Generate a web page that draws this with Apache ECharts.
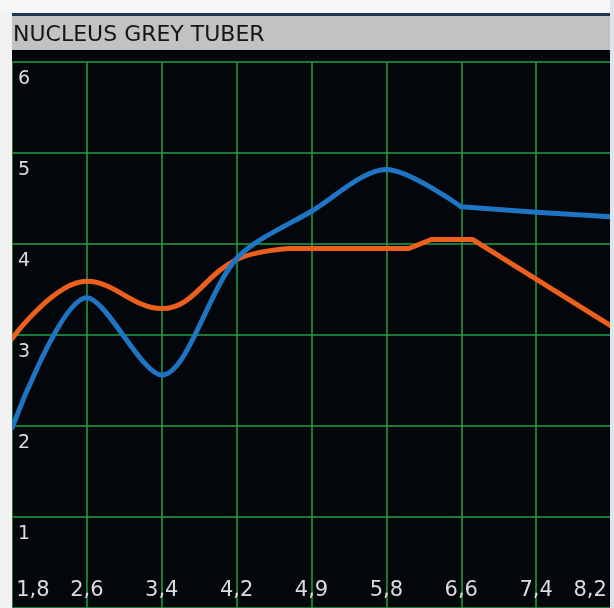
<!DOCTYPE html>
<html>
<head>
<meta charset="utf-8">
<script src="https://cdn.jsdelivr.net/npm/echarts@6/dist/echarts.min.js"></script>
<style>
html,body{margin:0;padding:0;background:#f4f4f4;}
#chart{width:614px;height:608px;}
</style>
</head>
<body>
<div id="chart"></div>
<script>
// Tick labels of the x axis (category positions 0..8)
var xTickLabels = ['1,8', '2,6', '3,4', '4,2', '4,9', '5,8', '6,6', '7,4', '8,2'];
// Blue series: [position, value] - curved part and straight tail
var blueCurve = [[0, 1.98], [1, 3.41], [2, 2.56], [3, 3.84], [4, 4.36], [5, 4.82], [6, 4.41]];
var blueTail = [[6, 4.41], [7, 4.35], [8, 4.30]];
// Orange series: [position, value] - curved part and straight tail
var orangeCurve = [[0, 2.96], [1, 3.59], [2, 3.29], [3, 3.83], [3.7, 3.95]];
var orangeTail = [[3.7, 3.95], [5.3, 3.95], [5.6, 4.05], [6.15, 4.05], [8, 3.10]];
var titleText = 'NUCLEUS GREY TUBER';

var BLUE = '#1f74c4', ORANGE = '#ec5f1d';
var chart = echarts.init(document.getElementById('chart'), null, {renderer: 'canvas'});
function lineSeries(name, data, smooth, color, z) {
  return {
    name: name, type: 'line', data: data, smooth: smooth,
    showSymbol: false, symbol: 'none',
    lineStyle: {color: color, width: 5, cap: 'round', join: 'round'}, z: z
  };
}
var option = {
  backgroundColor: '#03070c',
  animation: false,
  grid: {left: 12, right: 3, top: 62, bottom: -4, containLabel: false},
  xAxis: {
    type: 'value', min: 0, max: 8, interval: 1,
    axisLine: {show: false}, axisTick: {show: false},
    splitLine: {show: true, lineStyle: {color: '#23a046', width: 1.5}},
    axisLabel: {
      inside: true, margin: 7, color: '#dcdcdc',
      fontFamily: 'DejaVu Sans', fontSize: 21,
      alignMinLabel: 'left', alignMaxLabel: 'right',
      formatter: function (v) {
        var i = Math.round(v);
        var s = xTickLabels[i] || '';
        if (i === 0) return '\u2009' + s;
        if (i === 8) return s + '\u2009';
        return s;
      }
    }
  },
  yAxis: {
    type: 'value', min: 0, max: 6, interval: 1,
    axisLine: {show: false}, axisTick: {show: false},
    splitLine: {show: true, lineStyle: {color: '#23a046', width: 1.5}},
    axisLabel: {
      inside: true, margin: 6, color: '#dcdcdc',
      fontFamily: 'DejaVu Sans', fontSize: 19,
      verticalAlign: 'top', padding: [8, 0, 0, 0],
      showMinLabel: false,
      formatter: function (v) { return String(v); }
    }
  },
  graphic: [
    {type: 'rect', shape: {x: 0, y: 0, width: 12, height: 608}, style: {fill: '#f2f2f2'}, z: 100, silent: true},
    {type: 'rect', shape: {x: 0, y: 0, width: 614, height: 13}, style: {fill: '#f6f6f6'}, z: 100, silent: true},
    {type: 'rect', shape: {x: 610, y: 0, width: 4, height: 608}, style: {fill: '#dfe4ea'}, z: 100, silent: true},
    {type: 'rect', shape: {x: 12, y: 13, width: 598, height: 3}, style: {fill: '#1e3552'}, z: 100, silent: true},
    {type: 'rect', shape: {x: 12, y: 16, width: 598, height: 34}, style: {fill: '#c2c2c2'}, z: 100, silent: true},
    {type: 'text', x: 13, y: 35, style: {text: titleText, fill: '#151515', font: '22px "DejaVu Sans"', verticalAlign: 'middle', align: 'left'}, z: 101, silent: true}
  ],
  series: [
    lineSeries('orange', orangeCurve, 0.4, ORANGE, 3),
    lineSeries('orange tail', orangeTail, false, ORANGE, 3),
    lineSeries('blue', blueCurve, 0.3, BLUE, 4),
    lineSeries('blue tail', blueTail, false, BLUE, 4)
  ]
};
chart.setOption(option);
</script>
</body>
</html>
